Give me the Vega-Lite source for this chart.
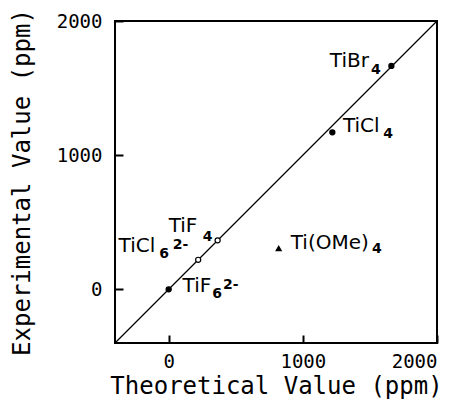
{
  "$schema": "https://vega.github.io/schema/vega-lite/v6.json",
  "width": 322,
  "height": 322,
  "autosize": "none",
  "padding": {"left": 115, "top": 21, "right": 27, "bottom": 58},
  "background": "white",
  "config": {
    "font": "DejaVu Sans Mono",
    "view": {"stroke": "black", "strokeWidth": 2},
    "axis": {
      "grid": false,
      "domain": false,
      "ticks": true,
      "tickSize": -8,
      "tickWidth": 2,
      "tickColor": "black",
      "labelColor": "black",
      "labelFontSize": 19,
      "labelFont": "DejaVu Sans Mono",
      "titleFont": "DejaVu Sans Mono",
      "titleFontSize": 24,
      "titleFontWeight": "normal",
      "titleColor": "black"
    }
  },
  "datasets": {
    "points": [
      {"compound": "TiF6", "theoretical": 0, "experimental": 0},
      {"compound": "TiCl6", "theoretical": 220, "experimental": 220},
      {"compound": "TiF4", "theoretical": 365, "experimental": 365},
      {"compound": "TiOMe4", "theoretical": 820, "experimental": 305},
      {"compound": "TiCl4", "theoretical": 1220, "experimental": 1170},
      {"compound": "TiBr4", "theoretical": 1660, "experimental": 1665}
    ],
    "labels": [
      {"text": "TiBr", "part": "base", "lx": 1201, "ly": 1701},
      {"text": "4", "part": "sub", "lx": 1508, "ly": 1634},
      {"text": "TiCl", "part": "base", "lx": 1299, "ly": 1216},
      {"text": "4", "part": "sub", "lx": 1600, "ly": 1157},
      {"text": "TiF", "part": "base", "lx": 0, "ly": 470},
      {"text": "4", "part": "sub", "lx": 254, "ly": 388},
      {"text": "TiCl", "part": "base", "lx": -373, "ly": 321},
      {"text": "6", "part": "sub", "lx": -70, "ly": 261},
      {"text": "2-", "part": "sub", "lx": 30, "ly": 328},
      {"text": "TiF", "part": "base", "lx": 104, "ly": 22},
      {"text": "6", "part": "sub", "lx": 325, "ly": -37},
      {"text": "2-", "part": "sub", "lx": 405, "ly": 30},
      {"text": "Ti(OMe)", "part": "base", "lx": 910, "ly": 343},
      {"text": "4", "part": "sub", "lx": 1515, "ly": 299}
    ],
    "diag": [{"x": -400, "y": -400, "x2": 2000, "y2": 2000}]
  },
  "layer": [
    {
      "data": {"name": "diag"},
      "mark": {"type": "rule", "color": "black", "strokeWidth": 1.2},
      "encoding": {
        "x": {
          "field": "x", "type": "quantitative",
          "scale": {"domain": [-400, 2000], "nice": false, "zero": false},
          "axis": {"title": "Theoretical Value (ppm)", "values": [0, 1000, 2000], "format": "d", "labelPadding": 17, "titlePadding": 3}
        },
        "y": {
          "field": "y", "type": "quantitative",
          "scale": {"domain": [-400, 2000], "nice": false, "zero": false},
          "axis": {"title": "Experimental Value (ppm)", "values": [0, 1000, 2000], "format": "d", "labelPadding": 21, "titlePadding": 22}
        },
        "x2": {"field": "x2"},
        "y2": {"field": "y2"}
      }
    },
    {
      "data": {"name": "points"},
      "mark": {"type": "point", "filled": true, "stroke": "black", "strokeWidth": 1.2, "size": 26, "opacity": 1},
      "encoding": {
        "x": {"field": "theoretical", "type": "quantitative"},
        "y": {"field": "experimental", "type": "quantitative"},
        "shape": {
          "field": "compound", "type": "nominal", "legend": null,
          "scale": {
            "domain": ["TiF6", "TiCl6", "TiF4", "TiOMe4", "TiCl4", "TiBr4"],
            "range": ["circle", "circle", "circle", "triangle-up", "circle", "circle"]
          }
        },
        "fill": {
          "field": "compound", "type": "nominal", "legend": null,
          "scale": {
            "domain": ["TiF6", "TiCl6", "TiF4", "TiOMe4", "TiCl4", "TiBr4"],
            "range": ["black", "white", "white", "black", "black", "black"]
          }
        }
      }
    },
    {
      "data": {"name": "labels"},
      "transform": [{"filter": "datum.part === 'base'"}],
      "mark": {"type": "text", "align": "left", "baseline": "middle", "fontSize": 20, "color": "black", "font": "DejaVu Sans"},
      "encoding": {
        "x": {"field": "lx", "type": "quantitative"},
        "y": {"field": "ly", "type": "quantitative"},
        "text": {"field": "text"}
      }
    },
    {
      "data": {"name": "labels"},
      "transform": [{"filter": "datum.part === 'sub'"}],
      "mark": {"type": "text", "align": "left", "baseline": "middle", "fontSize": 14, "fontWeight": "bold", "color": "black", "font": "DejaVu Sans"},
      "encoding": {
        "x": {"field": "lx", "type": "quantitative"},
        "y": {"field": "ly", "type": "quantitative"},
        "text": {"field": "text"}
      }
    }
  ]
}
